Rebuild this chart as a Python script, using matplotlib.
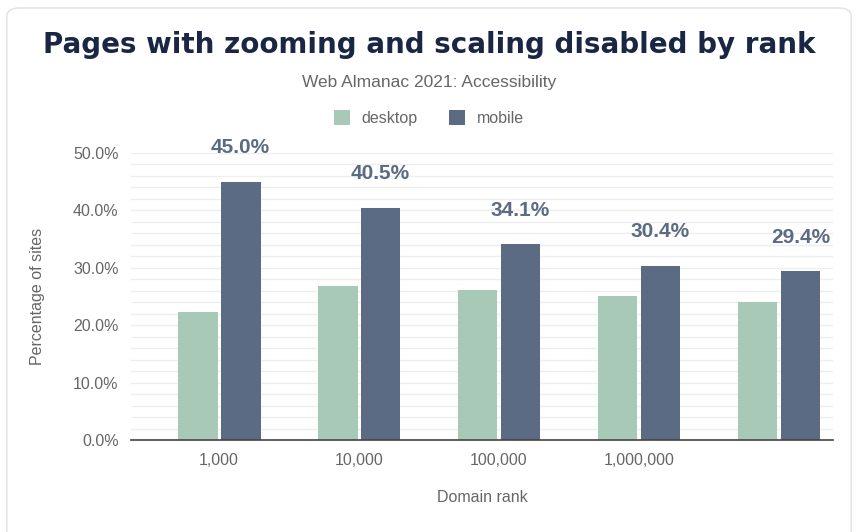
import numpy as np
import matplotlib
matplotlib.use("Agg")
import matplotlib.pyplot as plt
from matplotlib.patches import FancyBboxPatch
from matplotlib.ticker import MultipleLocator, FuncFormatter

ranks = ["1,000", "10,000", "100,000", "1,000,000", ""]
desktop = [22.3, 26.8, 26.1, 25.1, 24.1]
mobile = [45.0, 40.5, 34.1, 30.4, 29.4]

desktop_color = "#a8c8b8"
mobile_color = "#5c6b84"
text_gray = "#666666"

plt.rcParams["font.family"] = ["Liberation Sans", "DejaVu Sans"]

fig = plt.figure(figsize=(8.58, 5.32), dpi=100)
ax = fig.add_axes([0.1527, 0.1729, 0.8182, 0.5395])

# card border
fig.patches.append(FancyBboxPatch((0.008, -0.05), 0.984, 1.035,
                                  boxstyle="round,pad=0,rounding_size=0.015",
                                  transform=fig.transFigure, facecolor="none",
                                  edgecolor="#e6e6e6", linewidth=1.2))

x = np.arange(len(ranks))
w = 0.285
gap = 0.011
ax.bar(x - w / 2 - gap, desktop, w, color=desktop_color, label="desktop", zorder=3)
ax.bar(x + w / 2 + gap, mobile, w, color=mobile_color, label="mobile", zorder=3)

for xi, v in zip(x, mobile):
    ax.text(xi + w / 2 + gap, v + 5.9, f"{v:.1f}%", ha="center", va="center",
            fontsize=15, fontweight="bold", color=mobile_color, clip_on=False)

ax.set_xlim(-0.629, 4.386)
ax.set_ylim(0, 50)
ax.set_xticks(x)
ax.set_xticklabels(ranks)
ax.yaxis.set_major_locator(MultipleLocator(10))
ax.yaxis.set_minor_locator(MultipleLocator(2))
ax.yaxis.set_major_formatter(FuncFormatter(lambda v, p: f"{v:.1f}%"))
ax.grid(axis="y", which="both", color="#eeeeee", linewidth=1, zorder=0)
ax.tick_params(axis="both", which="both", length=0, labelsize=11.5, colors=text_gray, pad=9)
for s in ["top", "right", "left"]:
    ax.spines[s].set_visible(False)
ax.spines["bottom"].set_color("#444444")
ax.spines["bottom"].set_linewidth(1.2)
ax.spines["bottom"].set_zorder(4)

ax.set_ylabel("Percentage of sites", fontsize=11.5, color=text_gray, labelpad=20)
ax.set_xlabel("Domain rank", fontsize=11.5, color=text_gray, labelpad=16)

fig.text(0.5, 0.915, "Pages with zooming and scaling disabled by rank", ha="center",
         va="center", fontsize=20, fontweight="bold", color="#1a2744",
         family=["DejaVu Sans"])
fig.text(0.5, 0.844, "Web Almanac 2021: Accessibility", ha="center", va="center",
         fontsize=12.5, color=text_gray)

ax.legend(loc="center", bbox_to_anchor=(0.5, 0.778), bbox_transform=fig.transFigure,
          ncol=2, frameon=False, fontsize=11.5, labelcolor=text_gray,
          handlelength=1.0, handleheight=1.0, columnspacing=2.0, handletextpad=0.7)

fig.savefig("out.png", dpi=100)
